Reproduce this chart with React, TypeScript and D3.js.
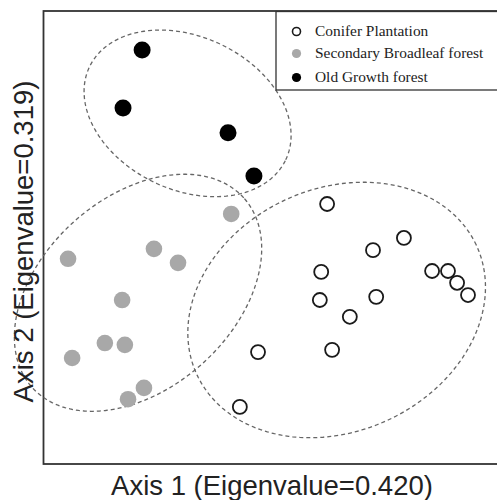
import React from "react";
import * as d3 from "d3";

// Ordination scores (arbitrary units, 0-100 across the plot window)
const coniferX = [62.4, 79.3, 72.5, 61.1, 60.8, 73.2, 67.4, 63.5, 47.2, 43.2, 85.5, 89.0, 91.0, 93.4];
const coniferY = [57.4, 49.9, 47.2, 42.4, 36.2, 36.9, 32.5, 25.2, 24.7, 12.6, 42.6, 42.6, 40.0, 37.3];

const secondaryX = [5.4, 24.3, 29.6, 41.3, 17.3, 13.5, 17.9, 6.3, 22.1, 18.6];
const secondaryY = [45.3, 47.5, 44.4, 55.2, 36.2, 26.7, 26.3, 23.4, 16.8, 14.3];

const oldGrowthX = [21.7, 17.5, 40.6, 46.3];
const oldGrowthY = [91.4, 78.6, 73.1, 63.6];

// Confidence ellipses: conifer, secondary, old growth
const groupNames = ["Conifer Plantation", "Secondary Broadleaf forest", "Old Growth forest"];
const ellipseCx = [64.5, 20.8, 31.7];
const ellipseCy = [34.0, 37.8, 77.4];
const ellipseA = [33.9, 31.3, 23.9];
const ellipseB = [26.8, 21.1, 16.9];
const ellipseAngle = [25, 42, -25.4];

const xTitle = "Axis 1 (Eigenvalue=0.420)";
const yTitle = "Axis 2 (Eigenvalue=0.319)";

const W = 497;
const H = 500;
const left = 43.5;
const right = 498;
const top = 11;
const bottom = 464;

export default function App() {
  const x = d3.scaleLinear().domain([0, 100]).range([left, right]);
  const y = d3.scaleLinear().domain([0, 100]).range([bottom, top]);

  const line = d3
    .line<[number, number]>()
    .x((d) => x(d[0]))
    .y((d) => y(d[1]))
    .curve(d3.curveLinearClosed);

  const ellipsePath = (i: number) => {
    const th = (ellipseAngle[i] * Math.PI) / 180;
    const pts: [number, number][] = d3.range(0, 240).map((k) => {
      const t = (k / 240) * Math.PI * 2;
      const ux = ellipseA[i] * Math.cos(t);
      const uy = ellipseB[i] * Math.sin(t);
      return [
        ellipseCx[i] + ux * Math.cos(th) - uy * Math.sin(th),
        ellipseCy[i] + ux * Math.sin(th) + uy * Math.cos(th),
      ];
    });
    return line(pts) || "";
  };

  const grayFill = "#a8a8a8";
  const legendX = 276;
  const legendTop = 11.5;
  const legendRows = [31.5, 53.5, 77.5];

  return (
    <svg
      width={W}
      height={H}
      style={{ position: "absolute", left: 0, top: 0, background: "#fff" }}
    >
      <rect x={0} y={0} width={W} height={H} fill="#fff" />
      {/* frame */}
      <rect
        x={left}
        y={top}
        width={right - left}
        height={bottom - top}
        fill="none"
        stroke="#333"
        strokeWidth={1.8}
      />
      {/* ellipses */}
      {ellipseCx.map((_, i) => (
        <path
          key={"e" + i}
          d={ellipsePath(i)}
          fill="none"
          stroke="#666"
          strokeWidth={1.3}
          strokeDasharray="4,3"
        />
      ))}
      {/* points */}
      {secondaryX.map((v, i) => (
        <circle key={"s" + i} cx={x(v)} cy={y(secondaryY[i])} r={8.3} fill={grayFill} />
      ))}
      {oldGrowthX.map((v, i) => (
        <circle key={"o" + i} cx={x(v)} cy={y(oldGrowthY[i])} r={8.5} fill="#000" />
      ))}
      {coniferX.map((v, i) => (
        <circle
          key={"c" + i}
          cx={x(v)}
          cy={y(coniferY[i])}
          r={7}
          fill="#fff"
          stroke="#1a1a1a"
          strokeWidth={1.8}
        />
      ))}
      {/* legend */}
      <rect
        x={legendX}
        y={legendTop}
        width={W - legendX + 5}
        height={90 - legendTop}
        fill="#fff"
        stroke="#333"
        strokeWidth={1.3}
      />
      {groupNames.map((name, i) => (
        <g key={"l" + i}>
          <circle
            cx={296.5}
            cy={legendRows[i]}
            r={i === 0 ? 4 : 4.6}
            fill={i === 0 ? "#fff" : i === 1 ? grayFill : "#000"}
            stroke={i === 0 ? "#1a1a1a" : "none"}
            strokeWidth={1.6}
          />
          <text
            x={315}
            y={legendRows[i] + 4.8}
            fontFamily="'Liberation Serif', 'Times New Roman', serif"
            fontSize={15.4}
            fill="#222"
          >
            {name}
          </text>
        </g>
      ))}
      {/* axis titles */}
      <text
        x={272}
        y={495}
        textAnchor="middle"
        fontFamily="'Liberation Sans', Arial, Helvetica, sans-serif"
        fontSize={27.5}
        fill="#222"
      >
        {xTitle}
      </text>
      <text
        transform={`translate(33, 241.5) rotate(-90)`}
        textAnchor="middle"
        fontFamily="'Liberation Sans', Arial, Helvetica, sans-serif"
        fontSize={27.5}
        fill="#222"
      >
        {yTitle}
      </text>
    </svg>
  );
}
